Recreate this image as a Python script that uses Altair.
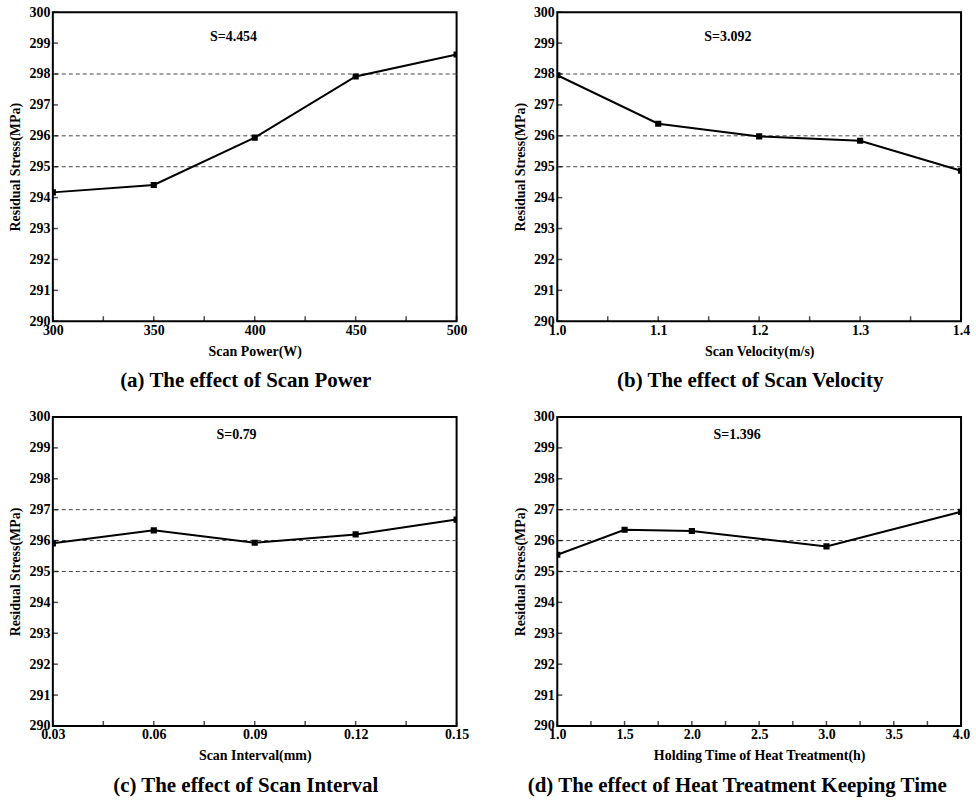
import altair as alt
import pandas as pd

FONT = "Liberation Serif"

# ---- data -------------------------------------------------------------
power_w = [300, 350, 400, 450, 500]
power_stress = [294.17, 294.41, 295.94, 297.92, 298.63]

velocity_ms = [1.0, 1.1, 1.2, 1.3, 1.4]
velocity_stress = [297.96, 296.39, 295.98, 295.84, 294.87]

interval_mm = [0.03, 0.06, 0.09, 0.12, 0.15]
interval_stress = [295.91, 296.33, 295.93, 296.20, 296.68]

holding_h = [1.0, 1.5, 2.0, 3.0, 4.0]
holding_stress = [295.54, 296.35, 296.31, 295.81, 296.93]

y_ticks = [290, 291, 292, 293, 294, 295, 296, 297, 298, 299, 300]

power_ticks = [300, 350, 400, 450, 500]
power_minor = [325, 375, 425, 475]
velocity_ticks = [1.0, 1.1, 1.2, 1.3, 1.4]
velocity_minor = [1.05, 1.15, 1.25, 1.35]
interval_ticks = [0.03, 0.06, 0.09, 0.12, 0.15]
interval_minor = [0.045, 0.075, 0.105, 0.135]
holding_ticks = [1.0, 1.5, 2.0, 2.5, 3.0, 3.5, 4.0]
holding_minor = [1.25, 1.75, 2.25, 2.75, 3.25, 3.75]

ref_lines_top = [295, 296, 298]
ref_lines_bottom = [295, 296, 297]

W, H = 405, 310


def panel(xs, ys, xticks, xminor, xfmt, xtitle, caption, s_text, s_x, s_y, refs,
          caption_dx=-9):
    xmin, xmax = xticks[0], xticks[-1]
    xscale = alt.Scale(domain=[xmin, xmax], nice=False, zero=False)
    yscale = alt.Scale(domain=[290, 300], nice=False, zero=False)

    xaxis = alt.Axis(values=xticks, format=xfmt, title=xtitle,
                     labelFlush=False, labelOverlap=False,
                     labelPadding=2, titlePadding=7)
    yaxis = alt.Axis(values=y_ticks, format="d", title="Residual Stress(MPa)",
                     labelOverlap=False, labelPadding=3, titlePadding=6)

    def xe():
        return alt.X("x:Q", scale=xscale, axis=xaxis)

    def ye():
        return alt.Y("y:Q", scale=yscale, axis=yaxis)

    df = pd.DataFrame({"x": xs, "y": ys})

    refs_df = pd.DataFrame({"y": refs})
    dashed = alt.Chart(refs_df).mark_rule(
        color="#444444", strokeDash=[4, 3], strokeWidth=1
    ).encode(y=ye())

    line = alt.Chart(df).mark_line(color="black", strokeWidth=2, clip=True).encode(x=xe(), y=ye())
    squares = alt.Chart(df).mark_square(
        color="black", size=38, opacity=1, filled=True, clip=True
    ).encode(x=xe(), y=ye())

    # inward tick marks along the left and bottom edges
    yt_df = pd.DataFrame({"x": [xmin] * len(y_ticks), "y": y_ticks})
    ytick_marks = alt.Chart(yt_df).mark_tick(
        orient="horizontal", size=5, thickness=1.5, color="black", xOffset=2.5
    ).encode(x=xe(), y=ye())

    xt_vals = xticks + xminor
    xt_df = pd.DataFrame({"x": xt_vals, "y": [290] * len(xt_vals)})
    xtick_marks = alt.Chart(xt_df).mark_tick(
        orient="vertical", size=5, thickness=1.5, color="black", yOffset=-2.5
    ).encode(x=xe(), y=ye())

    s_df = pd.DataFrame({"x": [s_x], "y": [s_y], "t": [s_text]})
    s_label = alt.Chart(s_df).mark_text(
        font=FONT, fontWeight="bold", fontSize=14, color="black"
    ).encode(x=xe(), y=ye(), text="t:N")

    return alt.layer(
        dashed, line, squares, ytick_marks, xtick_marks, s_label
    ).properties(
        width=W, height=H,
        title=alt.TitleParams(
            text=caption, orient="bottom", anchor="middle", font=FONT,
            fontWeight="bold", fontSize=21, color="black", offset=12,
            dx=caption_dx,
        ),
    )


pa = panel(power_w, power_stress, power_ticks, power_minor, "d",
           "Scan Power(W)", "(a) The effect of Scan Power",
           "S=4.454", 389.5, 299.2, ref_lines_top)
pb = panel(velocity_ms, velocity_stress, velocity_ticks, velocity_minor, ".1f",
           "Scan Velocity(m/s)", "(b) The effect of Scan Velocity",
           "S=3.092", 1.169, 299.2, ref_lines_top)
pc = panel(interval_mm, interval_stress, interval_ticks, interval_minor, ".2f",
           "Scan Interval(mm)", "(c) The effect of Scan Interval",
           "S=0.79", 0.0846, 299.43, ref_lines_bottom)
pd_ = panel(holding_h, holding_stress, holding_ticks, holding_minor, ".1f",
            "Holding Time of Heat Treatment(h)",
            "(d) The effect of Heat Treatment Keeping Time",
            "S=1.396", 2.336, 299.43, ref_lines_bottom, caption_dx=-22)

chart = alt.concat(
    pa, pb, pc, pd_, columns=2,
    spacing={"row": 96, "column": 101}, bounds="flush",
).properties(
    padding={"left": 8, "top": 3, "right": 5, "bottom": 5},
    background="white",
).configure_view(
    stroke="black", strokeWidth=2
).configure_axis(
    domain=False, ticks=False, grid=False,
    labelFont=FONT, labelFontWeight="bold", labelFontSize=14, labelColor="black",
    titleFont=FONT, titleFontWeight="bold", titleFontSize=14, titleColor="black",
)

chart.save("out.html", embed_options={"renderer": "svg", "actions": False})
